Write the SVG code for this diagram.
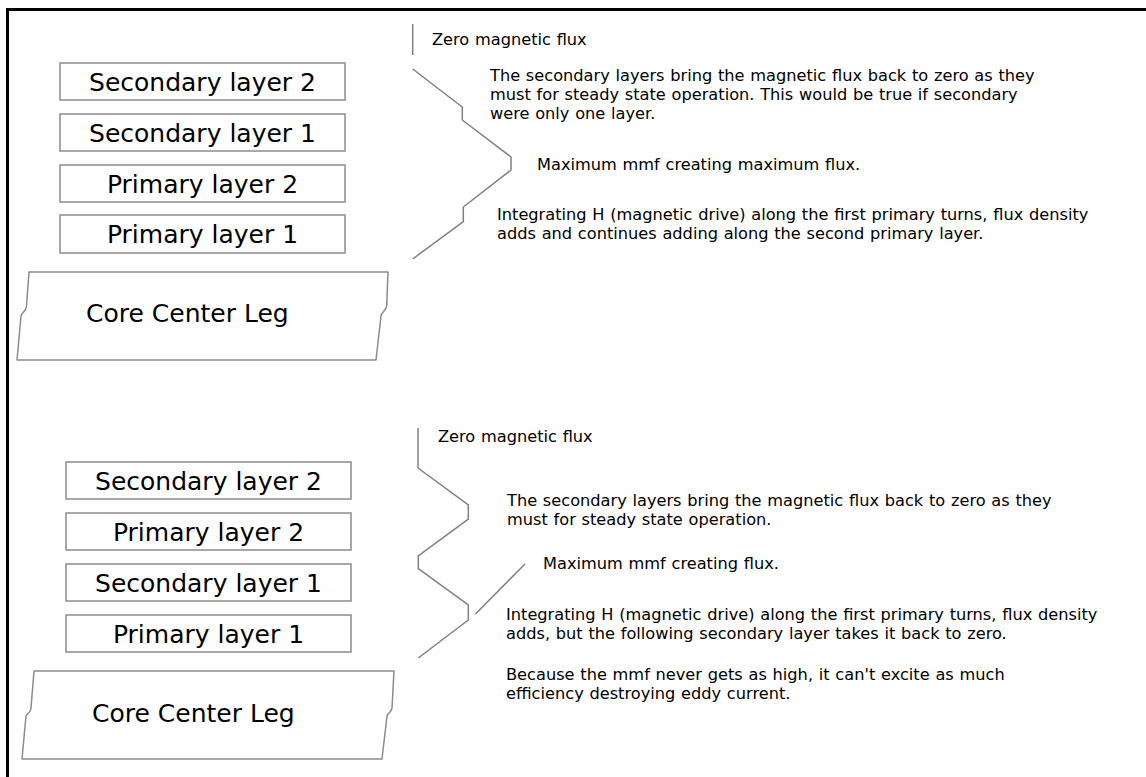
<svg xmlns="http://www.w3.org/2000/svg" width="1146" height="777" viewBox="0 0 1146 777">
<style>
.box{fill:#fff;stroke:#8c8c8c;stroke-width:1.5}
.core{fill:#fff;stroke:#8c8c8c;stroke-width:1.5;stroke-linejoin:round}
.lbl{font-family:"DejaVu Sans",Verdana,sans-serif;font-size:25px;fill:#000}
.note{font-family:"DejaVu Sans",Verdana,sans-serif;font-size:16.2px;fill:#000;word-spacing:0.6px}
.flux{fill:none;stroke:#808080;stroke-width:1.5;stroke-linejoin:miter}
.frame{fill:none;stroke:#000;stroke-width:3}
</style>
<rect width="1146" height="777" fill="#fff"/>
<path class="frame" d="M7.5,777 V9.5 H1146"/>

<!-- Top diagram -->
<g id="top-sec2"><rect class="box" x="60" y="63" width="285" height="37"/><text class="lbl" x="202.5" y="91" text-anchor="middle">Secondary layer 2</text></g>
<g id="top-sec1"><rect class="box" x="60" y="114" width="285" height="37"/><text class="lbl" x="202.5" y="142" text-anchor="middle">Secondary layer 1</text></g>
<g id="top-pri2"><rect class="box" x="60" y="165" width="285" height="37"/><text class="lbl" x="202.5" y="193" text-anchor="middle">Primary layer 2</text></g>
<g id="top-pri1"><rect class="box" x="60" y="215" width="285" height="38"/><text class="lbl" x="202.5" y="243" text-anchor="middle">Primary layer 1</text></g>
<g id="top-core"><path class="core" d="M29,272 H388 L386.7,306 C386,311 381.5,312 381,316 L376,360 H17 L21,316 C22,312 26,312 26.5,306 Z"/><text class="lbl" x="86" y="322">Core Center Leg</text></g>

<!-- Bottom diagram -->
<g id="bot-sec2"><rect class="box" x="66" y="462" width="285" height="37"/><text class="lbl" x="208.5" y="490" text-anchor="middle">Secondary layer 2</text></g>
<g id="bot-pri2"><rect class="box" x="66" y="513" width="285" height="37"/><text class="lbl" x="208.5" y="541" text-anchor="middle">Primary layer 2</text></g>
<g id="bot-sec1"><rect class="box" x="66" y="564" width="285" height="37"/><text class="lbl" x="208.5" y="592" text-anchor="middle">Secondary layer 1</text></g>
<g id="bot-pri1"><rect class="box" x="66" y="615" width="285" height="37"/><text class="lbl" x="208.5" y="643" text-anchor="middle">Primary layer 1</text></g>
<g id="bot-core"><path class="core" d="M34,671 H394 L392,708 C391.5,713 387.5,713 387,716 L382,759 H22 L26,716 C27,713 31,713 31,708 Z"/><text class="lbl" x="92" y="722">Core Center Leg</text></g>

<g id="connectors">
<line class="flux" x1="412.7" y1="24" x2="412.7" y2="55"/>
<polyline class="flux" points="412.7,69 462.3,107 462.3,120 511,157 511,170 463.3,207 463.3,221.5 412.7,259"/>
<line class="flux" x1="418" y1="428" x2="418" y2="468"/>
<polyline class="flux" points="418,468 468.3,505 468.3,519 418.3,556 418.3,568.5 468.3,605 468.3,620 418.3,658"/>
<line class="flux" x1="525" y1="564" x2="475.5" y2="614"/>
</g>

<g id="notes">
<text class="note" x="432" y="45">Zero magnetic flux</text>
<text class="note" x="490" y="81">The secondary layers bring the magnetic flux back to zero as they</text>
<text class="note" x="490" y="100">must for steady state operation. This would be true if secondary</text>
<text class="note" x="490" y="119">were only one layer.</text>
<text class="note" x="537" y="170">Maximum mmf creating maximum flux.</text>
<text class="note" x="497" y="220">Integrating H (magnetic drive) along the first primary turns, flux density</text>
<text class="note" x="497" y="239">adds and continues adding along the second primary layer.</text>

<text class="note" x="438" y="442">Zero magnetic flux</text>
<text class="note" x="507" y="506">The secondary layers bring the magnetic flux back to zero as they</text>
<text class="note" x="507" y="525">must for steady state operation.</text>
<text class="note" x="543" y="569">Maximum mmf creating flux.</text>
<text class="note" x="506" y="620">Integrating H (magnetic drive) along the first primary turns, flux density</text>
<text class="note" x="506" y="639">adds, but the following secondary layer takes it back to zero.</text>
<text class="note" x="506" y="680">Because the mmf never gets as high, it can't excite as much</text>
<text class="note" x="506" y="699">efficiency destroying eddy current.</text>
</g>
</svg>
